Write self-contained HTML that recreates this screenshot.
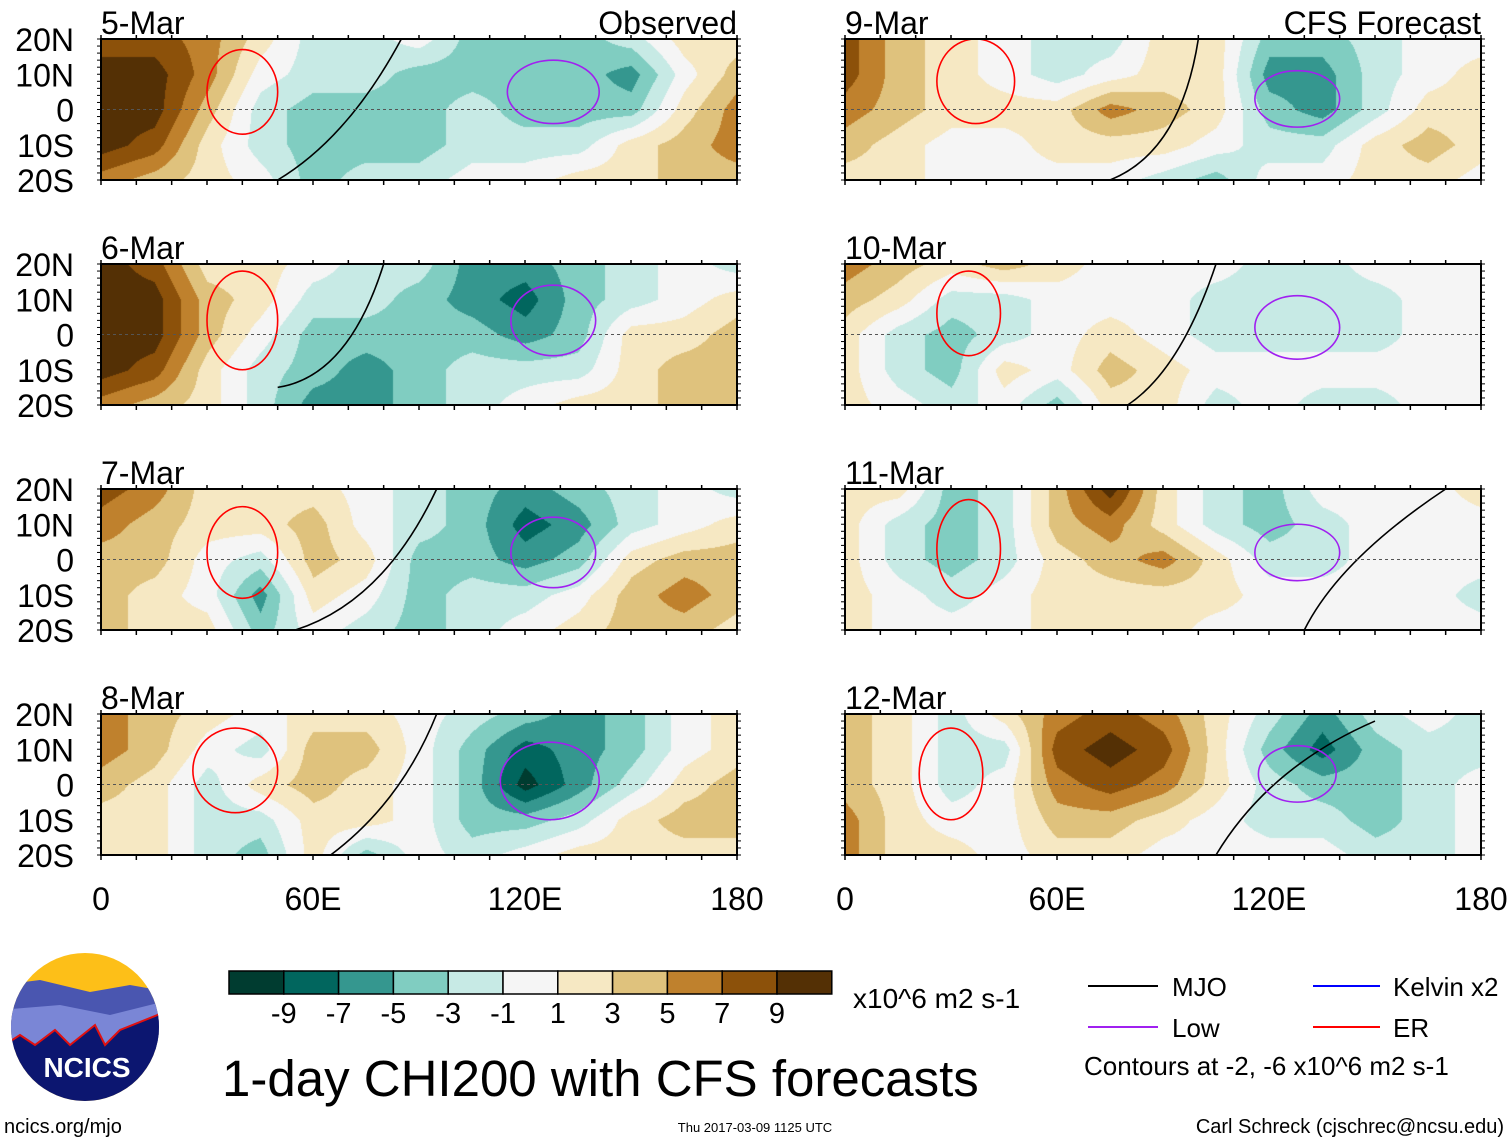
<!DOCTYPE html>
<html><head><meta charset="utf-8">
<style>
body{margin:0;background:#fff;}
#wrap{position:relative;width:1510px;height:1142px;overflow:hidden;background:#fff;font-family:"Liberation Sans",sans-serif;}
canvas{position:absolute;}
svg{position:absolute;left:0;top:0;}
</style></head>
<body>
<div id="wrap">
<svg id="ov" width="1510" height="1142"></svg>
</div>
<script>
// ---- data ----
const lons = [0,15,30,45,60,75,90,105,120,135,150,165,180];
const lats = [20,10,0,-10,-20];
const panelTitles = ["5-Mar","6-Mar","7-Mar","8-Mar","9-Mar","10-Mar","11-Mar","12-Mar"];
const levels = [-9,-7,-5,-3,-1,1,3,5,7,9];
const levelColors = ["#003c30","#01665e","#35978f","#80cdc1","#c7eae5","#f5f5f5","#f6e8c3","#dfc27d","#bf812d","#8c510a","#543005"];
const xTickLabels = ["0","60E","120E","180"];
const xTickValues = [0,60,120,180];
const yTickLabels = ["20N","10N","0","10S","20S"];
const field5 = [[8,8,6,2,-2,-2,0,-4,-4,-4,-2,2,2],[10,10,6,0,-2,-2,-4,-4,-4,-4,-6,0,4],[10,10,4,-2,-4,-4,-4,-2,-4,-4,-4,2,6],[10,8,2,-2,-4,-4,-4,-2,-2,-2,2,4,6],[6,4,2,0,-4,-2,-2,0,0,2,2,4,4]];
const field6 = [[10,8,2,2,0,-2,-2,-6,-6,-4,-2,0,-2],[10,10,4,2,-2,-2,-4,-6,-8,-4,-2,0,2],[10,10,4,0,-4,-4,-4,-4,-6,-4,2,2,4],[10,8,2,-2,-4,-6,-4,-2,-2,-2,2,4,4],[6,4,2,-2,-6,-6,-4,-2,0,2,2,4,4]];
const field7 = [[8,6,2,2,2,0,-2,-4,-6,-4,-2,0,-2],[6,4,2,2,4,0,-2,-4,-8,-6,-2,0,2],[4,4,0,-2,4,2,-4,-4,-6,-4,2,4,4],[4,2,0,-6,2,0,-4,-2,-2,0,4,6,4],[4,2,2,-4,0,-2,-4,-2,0,2,4,4,2]];
const field8 = [[6,4,2,0,2,2,0,-2,-4,-6,-4,0,2],[6,4,0,-2,4,4,0,-4,-8,-6,-4,0,2],[4,2,-2,2,4,2,0,-4,-10,-6,-2,2,4],[2,2,-2,-2,2,2,0,-4,-4,-2,2,4,4],[2,2,-2,-4,2,-4,0,-2,0,2,2,2,2]];
const field9 = [[8,4,2,0,-2,-2,2,2,-4,-4,-2,0,0],[8,4,2,0,-2,0,2,2,-6,-6,-2,0,2],[6,4,2,2,2,6,4,2,-4,-6,-2,2,2],[4,2,0,0,2,2,2,0,-2,-2,2,4,2],[2,2,0,0,0,0,-2,-4,0,0,2,2,0]];
const field10 = [[6,4,2,4,2,0,0,0,-2,-2,0,0,0],[4,2,-2,-2,0,0,0,-2,-2,-2,-2,0,0],[2,-2,-4,-2,0,2,0,-2,-2,-2,-2,0,0],[2,-2,-4,2,0,4,2,0,0,0,0,0,0],[2,0,-2,0,-4,2,2,-2,0,-2,-2,0,0]];
const field11 = [[2,2,-4,-2,4,10,2,-2,-4,0,0,0,2],[2,-2,-4,-2,4,6,2,-2,-4,-2,0,0,0],[2,-2,-4,-2,2,4,6,2,-2,-2,0,0,0],[2,0,-2,0,2,2,2,2,0,0,0,0,-2],[2,0,0,0,2,2,2,0,0,0,0,0,0]];
const field12 = [[4,2,-2,2,6,8,6,2,-2,-6,-2,0,-2],[4,2,-2,-2,8,10,8,2,-4,-8,-4,-2,-2],[4,2,-2,0,6,8,6,2,-2,-4,-4,-2,0],[6,2,0,0,4,4,2,0,-2,-2,-4,-2,0],[6,2,2,0,2,2,0,0,0,0,-2,-2,0]];
const fields = [field5,field6,field7,field8,field9,field10,field11,field12];
// contour ellipses: [lonCenter, latCenter, lonRadius, latRadius]
const lowEllipses = [[128,5,13,9],[128,4,12,10],[128,2,12,10],[127,1,14,11],[128,3,12,8],[128,2,12,9],[128,2,12,8],[128,3,11,8]];
const erEllipses = [[40,5,10,12],[40,4,10,14],[40,2,10,13],[38,4,12,12],[37,8,11,12],[35,6,9,12],[35,3,9,14],[30,3,9,13]];
const mjoLines = [[[50,-20],[70,-8],[85,20]],[[50,-15],[70,-12],[80,20]],[[55,-20],[80,-12],[95,20]],[[65,-20],[85,-5],[95,20]],[[75,-20],[95,-12],[100,20]],[[80,-20],[95,-10],[105,20]],[[130,-20],[140,0],[170,20]],[[105,-20],[120,5],[150,18]]];

// ---- geometry ----
const PW=636, PH=141;
const px0=[101,845], py0=[39,264,489,714];
const svg=document.getElementById('ov');
const wrap=document.getElementById('wrap');
const NS='http://www.w3.org/2000/svg';
function mk(tag,attrs,parent){const e=document.createElementNS(NS,tag);for(const k in attrs)e.setAttribute(k,attrs[k]);(parent||svg).appendChild(e);return e;}
function xs(lon){return lon/180*PW;}
function ys(lat){return (20-lat)/40*PH;}
function colorFor(v){v+=0.013;let i=0;while(i<levels.length&&v>=levels[i])i++;return levelColors[i];}
function sample(f,lon,lat){
  let fi=lon/15, fj=(20-lat)/10;
  let i=Math.min(Math.floor(fi),lons.length-2), j=Math.min(Math.floor(fj),lats.length-2);
  let a=fi-i, b=fj-j;
  return (f[j][i]*(1-a)+f[j][i+1]*a)*(1-b)+(f[j+1][i]*(1-a)+f[j+1][i+1]*a)*b;
}
function hex(c){return [parseInt(c.slice(1,3),16),parseInt(c.slice(3,5),16),parseInt(c.slice(5,7),16)];}

for(let p=0;p<8;p++){
  const col=p<4?0:1, row=p%4;
  const X=px0[col], Y=py0[row];
  const cv=document.createElement('canvas');
  
  
  cv.width=PW;cv.height=PH;cv.style.left=X+'px';cv.style.top=Y+'px';
  wrap.insertBefore(cv,svg);
  const ctx=cv.getContext('2d');const img=ctx.createImageData(PW,PH);
  for(let y=0;y<PH;y++)for(let x=0;x<PW;x++){
    const v=sample(fields[p],x/PW*180,20-y/PH*40);
    const c=hex(colorFor(v));const k=(y*PW+x)*4;
    img.data[k]=c[0];img.data[k+1]=c[1];img.data[k+2]=c[2];img.data[k+3]=255;
  }
  ctx.putImageData(img,0,0);
  const g=mk('g',{transform:`translate(${X},${Y})`});
  
  
  const m=mjoLines[p];
  const ml=mk('path',{d:`M${xs(m[0][0])},${ys(m[0][1])} Q${xs(m[1][0])},${ys(m[1][1])} ${xs(m[2][0])},${ys(m[2][1])}`,fill:'none',stroke:'#000','stroke-width':1.6},g);
  
  
  const le=lowEllipses[p];
  const lo=mk('ellipse',{cx:xs(le[0]),cy:ys(le[1]),rx:xs(le[2]),ry:le[3]/40*PH,fill:'none',stroke:'#a020f0','stroke-width':1.6},g);
  
  
  const ee=erEllipses[p];
  const er=mk('ellipse',{cx:xs(ee[0]),cy:ys(ee[1]),rx:xs(ee[2]),ry:ee[3]/40*PH,fill:'none',stroke:'#ff0000','stroke-width':1.6},g);
  
  
  const eq=mk('line',{x1:0,x2:PW,y1:ys(0),y2:ys(0),stroke:'#555','stroke-width':1,'stroke-dasharray':'3,3'},g);
  
  
  const fr=mk('rect',{x:0,y:0,width:PW,height:PH,fill:'none',stroke:'#000','stroke-width':2},g);
  
  
  for(let lon=0;lon<=180;lon+=10){
    mk('line',{x1:xs(lon),x2:xs(lon),y1:PH,y2:PH+5,stroke:'#000','stroke-width':1.5},g);
    mk('line',{x1:xs(lon),x2:xs(lon),y1:0,y2:-4,stroke:'#000','stroke-width':1.5},g);
  }
  for(let lat=-20;lat<=20;lat+=2){
    mk('line',{x1:0,x2:-4,y1:ys(lat),y2:ys(lat),stroke:'#000','stroke-width':1},g);
    mk('line',{x1:PW,x2:PW+4,y1:ys(lat),y2:ys(lat),stroke:'#000','stroke-width':1},g);
  }
  const t=mk('text',{x:0,y:-5,'font-size':32,fill:'#000'},g);t.textContent=panelTitles[p];
  
  
  if(row===0){
    const s=mk('text',{x:PW,y:-5,'font-size':32,'text-anchor':'end'},g);s.textContent=col===0?'Observed':'CFS Forecast';
    
    
  }
  if(col===0){
    yTickLabels.forEach((l,i)=>{
      const yt=mk('text',{x:-27,y:ys(lats[i])+12,'font-size':32,'text-anchor':'end'},g);yt.textContent=l;
      
      
    });
  }
  if(row===3){
    xTickValues.forEach((v,i)=>{
      const xt=mk('text',{x:xs(v),y:PH+55,'font-size':32,'text-anchor':'middle'},g);xt.textContent=xTickLabels[i];
      
      
    });
  }
}
// ---- color bar ----
const cb=mk('g',{});


const cbw=54.8;
levelColors.forEach((c,i)=>{
  const r=mk('rect',{x:229+i*cbw,y:971,width:cbw,height:23,fill:c,stroke:'#000','stroke-width':1.5},cb);
  
  
});
levels.forEach((l,i)=>{
  const t=mk('text',{x:229+(i+1)*cbw,y:1023,'font-size':29,'text-anchor':'middle'},cb);t.textContent=l;
  
  
});
</script>
<svg width="1510" height="1142" style="position:absolute;left:0;top:0" font-family="Liberation Sans, sans-serif">
<text x="853" y="1008" font-size="28">x10^6 m2 s-1</text>
<text x="222" y="1096" font-size="51">1-day CHI200 with CFS forecasts</text>
<g font-size="26">
<line x1="1088" y1="986" x2="1158" y2="986" stroke="#000" stroke-width="2"/><text x="1172" y="996">MJO</text>
<line x1="1313" y1="986" x2="1380" y2="986" stroke="#0000ff" stroke-width="2"/><text x="1393" y="996">Kelvin x2</text>
<line x1="1088" y1="1027" x2="1158" y2="1027" stroke="#a020f0" stroke-width="2"/><text x="1172" y="1037">Low</text>
<line x1="1313" y1="1027" x2="1380" y2="1027" stroke="#ff0000" stroke-width="2"/><text x="1393" y="1037">ER</text>
<text x="1084" y="1075">Contours at -2, -6 x10^6 m2 s-1</text>
</g>
<text x="1504" y="1133" font-size="20" text-anchor="end">Carl Schreck (cjschrec@ncsu.edu)</text>
<text x="755" y="1132" font-size="13" text-anchor="middle">Thu 2017-03-09 1125 UTC</text>
<text x="4" y="1133" font-size="20">ncics.org/mjo</text>
<g>
<clipPath id="lc"><ellipse cx="85" cy="1027" rx="74" ry="74"/></clipPath>
<g clip-path="url(#lc)">
<rect x="0" y="950" width="170" height="160" fill="#fdbf18"/>
<path d="M0,985 L40,980 L90,992 L130,985 L170,992 L170,1050 L0,1050Z" fill="#4a56b0"/>
<path d="M0,1010 L60,1005 L110,1015 L170,1000 L170,1050 L0,1050Z" fill="#7a86d6"/>
<path d="M0,1048 L20,1035 L35,1045 L55,1030 L70,1045 L95,1025 L105,1045 L120,1030 L170,1010 L170,1110 L0,1110Z" fill="#0c1670" stroke="#e01010" stroke-width="2"/>
</g>
<text x="87" y="1077" font-size="28" font-weight="bold" fill="#fff" text-anchor="middle">NCICS</text>
</g>
</svg>
</body></html>
